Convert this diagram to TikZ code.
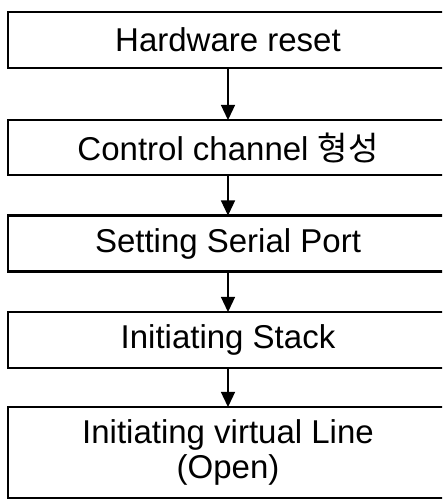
\documentclass[tikz,border=0pt]{standalone}
\usepackage{fontspec}
\setmainfont{Liberation Sans}
\newfontfamily\kr{Noto Sans CJK KR}
\usetikzlibrary{arrows.meta}
\begin{document}
\begin{tikzpicture}[x=1pt,y=1pt,
  stepbox/.style={minimum width=440pt, inner sep=0pt, outer sep=0pt,
    font=\fontsize{33}{35}\selectfont, align=center},
  frame/.style={line width=2.4pt},
  flow/.style={line width=1.3pt, -{Triangle[length=15pt,width=14pt]}}]
  \useasboundingbox (0,0) rectangle (442,500);
  \clip (0,0) rectangle (442,500);
  \node[stepbox, minimum height=56pt] (hw) at (228,460) {Hardware reset};
  \node[stepbox, minimum height=55pt] (cc) at (228,352.5) {Control channel {\kr 형성}};
  \node[stepbox, minimum height=56pt] (sp) at (228,256.5) {Setting Serial Port};
  \node[stepbox, minimum height=56pt] (st) at (228,160) {Initiating Stack};
  \node[stepbox, minimum height=91pt] (vl) at (228,47.5) {Initiating virtual Line\\(Open)};
  % frames run on past the right edge of the page
  \foreach \n in {hw,cc,sp,st,vl}
    \draw[frame] (\n.south west) rectangle ([xshift=40pt]\n.north east);
  \draw[flow] (hw.south) -- (cc.north);
  \draw[flow] (cc.south) -- (sp.north);
  \draw[flow] (sp.south) -- (st.north);
  \draw[flow] (st.south) -- (vl.north);
\end{tikzpicture}
\end{document}
